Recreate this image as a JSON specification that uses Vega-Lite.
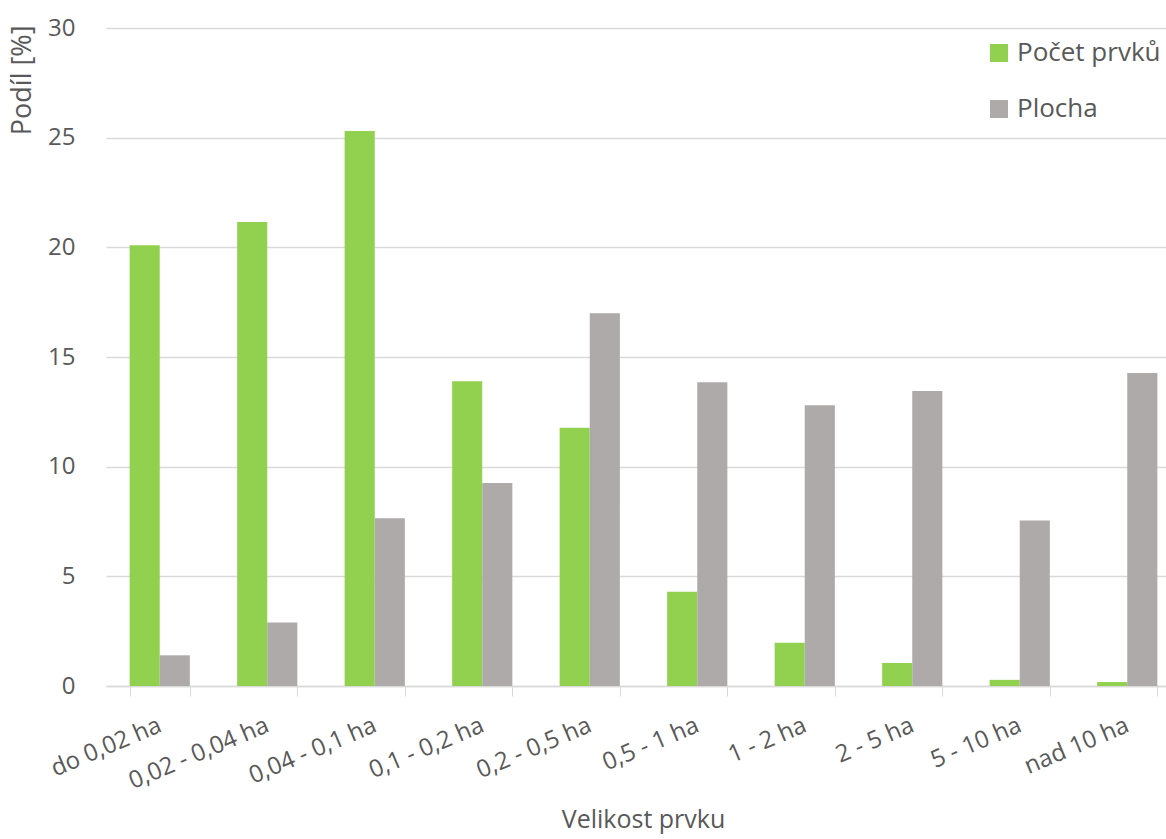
{
  "$schema": "https://vega.github.io/schema/vega-lite/v6.json",
  "autosize": {"type": "none"},
  "padding": {"left": 106, "top": 28, "right": 0, "bottom": 153},
  "width": 1060,
  "height": 658,
  "background": "white",
  "config": {
    "font": "Open Sans",
    "view": {"stroke": null},
    "axis": {"labelColor": "#595959", "titleColor": "#595959", "labelFont": "Open Sans", "titleFont": "Open Sans", "titleFontWeight": "normal"}
  },
  "data": {
    "values": [
      {"kategorie": "do 0,02 ha", "serie": "Počet prvků", "hodnota": 20.1},
      {"kategorie": "do 0,02 ha", "serie": "Plocha", "hodnota": 1.4},
      {"kategorie": "0,02 - 0,04 ha", "serie": "Počet prvků", "hodnota": 21.15},
      {"kategorie": "0,02 - 0,04 ha", "serie": "Plocha", "hodnota": 2.9},
      {"kategorie": "0,04 - 0,1 ha", "serie": "Počet prvků", "hodnota": 25.3},
      {"kategorie": "0,04 - 0,1 ha", "serie": "Plocha", "hodnota": 7.65},
      {"kategorie": "0,1 - 0,2 ha", "serie": "Počet prvků", "hodnota": 13.9},
      {"kategorie": "0,1 - 0,2 ha", "serie": "Plocha", "hodnota": 9.25},
      {"kategorie": "0,2 - 0,5 ha", "serie": "Počet prvků", "hodnota": 11.78},
      {"kategorie": "0,2 - 0,5 ha", "serie": "Plocha", "hodnota": 17.0},
      {"kategorie": "0,5 - 1 ha", "serie": "Počet prvků", "hodnota": 4.3},
      {"kategorie": "0,5 - 1 ha", "serie": "Plocha", "hodnota": 13.85},
      {"kategorie": "1 - 2 ha", "serie": "Počet prvků", "hodnota": 1.97},
      {"kategorie": "1 - 2 ha", "serie": "Plocha", "hodnota": 12.8},
      {"kategorie": "2 - 5 ha", "serie": "Počet prvků", "hodnota": 1.05},
      {"kategorie": "2 - 5 ha", "serie": "Plocha", "hodnota": 13.45},
      {"kategorie": "5 - 10 ha", "serie": "Počet prvků", "hodnota": 0.28},
      {"kategorie": "5 - 10 ha", "serie": "Plocha", "hodnota": 7.55},
      {"kategorie": "nad 10 ha", "serie": "Počet prvků", "hodnota": 0.18},
      {"kategorie": "nad 10 ha", "serie": "Plocha", "hodnota": 14.27}
    ]
  },
  "mark": {"type": "bar"},
  "encoding": {
    "x": {
      "field": "kategorie",
      "type": "nominal",
      "sort": null,
      "scale": {"range": [0, 1075], "paddingInner": 0.44, "paddingOuter": 0.22},
      "axis": {
        "title": "Velikost prvku",
        "titleFontSize": 25,
        "titleBaseline": "middle",
        "titleX": 537,
        "titleY": 133,
        "labelAngle": -23,
        "labelAlign": "right",
        "labelBaseline": "middle",
        "labelFontSize": 24,
        "labelPadding": 28,
        "tickBand": "extent",
        "tickSize": 10,
        "tickColor": "#D9D9D9",
        "domainColor": "#D9D9D9",
        "domainWidth": 1.5,
        "grid": false
      }
    },
    "xOffset": {
      "field": "serie",
      "type": "nominal",
      "sort": ["Počet prvků", "Plocha"],
      "scale": {"paddingInner": 0, "paddingOuter": 0}
    },
    "y": {
      "field": "hodnota",
      "type": "quantitative",
      "scale": {"domain": [0, 30]},
      "axis": {
        "title": "Podíl [%]",
        "titleFontSize": 27,
        "titleAnchor": "end",
        "titleAlign": "right",
        "titleAngle": -90,
        "titleBaseline": "middle",
        "titleX": -84,
        "titleY": -3,
        "values": [0, 5, 10, 15, 20, 25, 30],
        "labelFontSize": 24,
        "labelPadding": 31,
        "ticks": false,
        "domain": false,
        "grid": true,
        "gridColor": "#D9D9D9",
        "gridWidth": 1.5
      }
    },
    "color": {
      "field": "serie",
      "type": "nominal",
      "sort": ["Počet prvků", "Plocha"],
      "scale": {"domain": ["Počet prvků", "Plocha"], "range": ["#92D050", "#AEAAAA"]},
      "legend": {
        "title": null,
        "orient": "none",
        "legendX": 880,
        "legendY": 12,
        "padding": 0,
        "symbolType": "square",
        "symbolSize": 324,
        "symbolStrokeWidth": 0,
        "symbolOpacity": 1,
        "labelFontSize": 26,
        "labelColor": "#595959",
        "labelFont": "Open Sans",
        "labelOffset": 5,
        "rowPadding": 30,
        "labelLimit": 300
      }
    }
  }
}
